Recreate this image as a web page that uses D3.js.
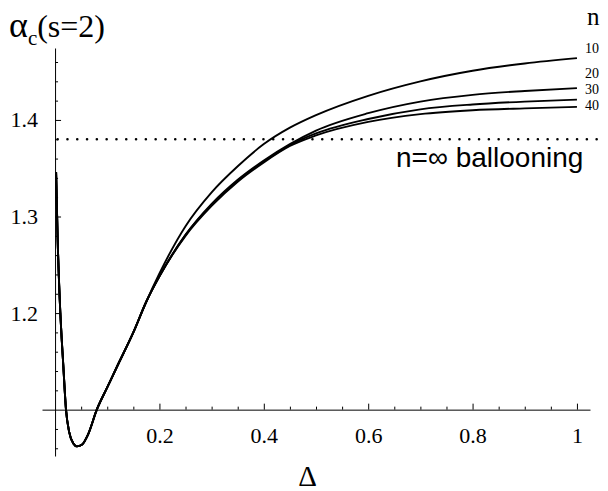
<!DOCTYPE html>
<html>
<head>
<meta charset="utf-8">
<script src="https://cdn.jsdelivr.net/npm/d3@7"></script>
<style>
  body { margin: 0; background: #fff; }
  .axis text { font-family: "Liberation Serif", "Times New Roman", serif; font-size: 22px; fill: #000; }
  .axis line, .axis path { stroke: #000; }
  .curve { fill: none; stroke: #000; stroke-width: 1.9; }
</style>
</head>
<body>
<div class="wrapper"></div>
<script>
// chart size
var ultimatew = 608,
  ultimateh = 491;

// data
var delta = [0.002, 0.005, 0.009, 0.016, 0.021, 0.027, 0.035, 0.042, 0.052, 0.063, 0.08, 0.1, 0.12, 0.15, 0.175, 0.2, 0.25, 0.3, 0.35, 0.4, 0.45, 0.5, 0.6, 0.7, 0.8, 0.9, 1.0];
var alpha10 = [1.346, 1.276, 1.214, 1.144, 1.1, 1.077, 1.065, 1.062, 1.064, 1.074, 1.1, 1.123, 1.146, 1.18, 1.212, 1.241, 1.29, 1.325, 1.352, 1.375, 1.392, 1.405, 1.425, 1.44, 1.451, 1.4585, 1.464];
var alpha20 = [1.346, 1.276, 1.214, 1.144, 1.1, 1.077, 1.065, 1.062, 1.064, 1.074, 1.1, 1.123, 1.146, 1.18, 1.212, 1.238, 1.281, 1.313, 1.338, 1.358, 1.375, 1.389, 1.407, 1.419, 1.426, 1.43, 1.433];
var alpha30 = [1.346, 1.276, 1.214, 1.144, 1.1, 1.077, 1.065, 1.062, 1.064, 1.074, 1.1, 1.123, 1.146, 1.18, 1.212, 1.238, 1.281, 1.312, 1.337, 1.357, 1.374, 1.386, 1.401, 1.411, 1.416, 1.419, 1.421];
var alpha40 = [1.346, 1.276, 1.214, 1.144, 1.1, 1.077, 1.065, 1.062, 1.064, 1.074, 1.1, 1.123, 1.146, 1.18, 1.212, 1.238, 1.28, 1.311, 1.336, 1.356, 1.373, 1.384, 1.398, 1.406, 1.41, 1.412, 1.4135];
var nLabels = ["10", "20", "30", "40"];
var ballooningLimit = 1.38;
var xMajor = [0.2, 0.4, 0.6, 0.8, 1];
var xMinor = [0.05, 0.1, 0.15, 0.25, 0.3, 0.35, 0.45, 0.5, 0.55, 0.65, 0.7, 0.75, 0.85, 0.9, 0.95];
var yMajor = [1.2, 1.3, 1.4];
var yMinor = [1.06, 1.08, 1.12, 1.14, 1.16, 1.18, 1.22, 1.24, 1.26, 1.28, 1.32, 1.34, 1.36, 1.38, 1.42, 1.44, 1.46];

var series = [alpha10, alpha20, alpha30, alpha40];

var svg = d3
  .select(".wrapper")
  .append("svg")
  .attr("width", ultimatew)
  .attr("height", ultimateh);

// scales (axis lines run over the whole domain)
var x = d3.scaleLinear().domain([-0.025, 1.025]).range([42, 590]);
var y = d3.scaleLinear().domain([1.052, 1.4745]).range([456, 48]);

// x axis, crossing at 1.1
svg
  .append("g")
  .attr("class", "axis")
  .attr("transform", "translate(0," + y(1.1) + ")")
  .call(d3.axisBottom(x).tickValues(xMajor).tickFormat(d3.format("")).tickSizeInner(-6).tickSizeOuter(0).tickPadding(18));
svg
  .append("g")
  .attr("class", "axis")
  .attr("transform", "translate(0," + y(1.1) + ")")
  .call(d3.axisBottom(x).tickValues(xMinor).tickFormat("").tickSizeInner(-3).tickSizeOuter(0))
  .select(".domain")
  .remove();

// y axis, at 0
svg
  .append("g")
  .attr("class", "axis")
  .attr("transform", "translate(" + x(0) + ",0)")
  .call(d3.axisLeft(y).tickValues(yMajor).tickFormat(d3.format("")).tickSizeInner(-6).tickSizeOuter(0).tickPadding(17));
svg
  .append("g")
  .attr("class", "axis")
  .attr("transform", "translate(" + x(0) + ",0)")
  .call(d3.axisLeft(y).tickValues(yMinor).tickFormat("").tickSizeInner(-3).tickSizeOuter(0))
  .select(".domain")
  .remove();

// ballooning limit
svg
  .append("line")
  .attr("x1", x(0.005))
  .attr("x2", x(1.04))
  .attr("y1", y(ballooningLimit))
  .attr("y2", y(ballooningLimit))
  .attr("stroke", "#000")
  .attr("stroke-width", 2.6)
  .attr("stroke-linecap", "round")
  .attr("stroke-dasharray", "0 9.8");

svg
  .append("text")
  .attr("x", 396)
  .attr("y", y(ballooningLimit) + 28)
  .attr("font-family", "'Liberation Sans', Arial, sans-serif")
  .attr("font-size", 28)
  .text("n=\u221e ballooning");

// the curves
var line = d3
  .line()
  .x(function(d, i) {
    return x(delta[i]);
  })
  .y(function(d) {
    return y(d);
  })
  .curve(d3.curveMonotoneX);

svg
  .selectAll("path.curve")
  .data(series)
  .enter()
  .append("path")
  .attr("class", "curve")
  .attr("d", line);

// n labels at the right end, stacked tight like the original
var labelLift = [5, 9.6, 5.7, -2.6];
svg
  .selectAll("text.nlab")
  .data(series)
  .enter()
  .append("text")
  .attr("class", "nlab")
  .attr("x", x(1) + 8)
  .attr("y", function(d, i) {
    return y(d[d.length - 1]) - labelLift[i];
  })
  .attr("font-family", "'Liberation Serif', 'Times New Roman', serif")
  .attr("font-size", 14)
  .text(function(d, i) {
    return nLabels[i];
  });

svg
  .append("text")
  .attr("x", 587)
  .attr("y", 25)
  .attr("font-family", "'Liberation Serif', 'Times New Roman', serif")
  .attr("font-size", 25)
  .text("n");

// axis titles
var yTitle = svg
  .append("text")
  .attr("x", 9)
  .attr("y", 37)
  .attr("font-family", "'Liberation Serif', 'Times New Roman', serif")
  .attr("font-size", 32);
yTitle.append("tspan").attr("font-size", 36).text("\u03b1");
yTitle.append("tspan").attr("font-size", 21).attr("dy", 8).text("c");
yTitle.append("tspan").attr("dy", -8).text("(s=2)");

svg
  .append("text")
  .attr("x", x(0.484))
  .attr("y", 486)
  .attr("text-anchor", "middle")
  .attr("font-family", "'Liberation Serif', 'Times New Roman', serif")
  .attr("font-size", 29)
  .text("\u0394");
</script>
</body>
</html>
